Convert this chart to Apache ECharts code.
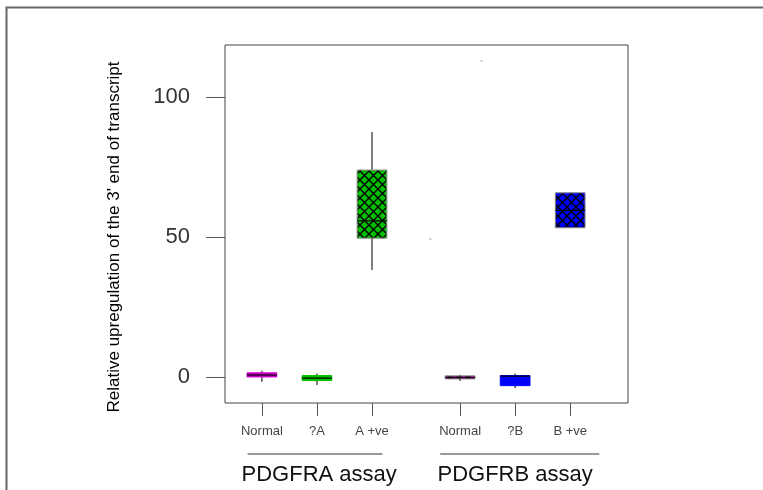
<!DOCTYPE html>
<html>
<head>
<meta charset="utf-8">
<title>Relative upregulation boxplot</title>
<script src="https://cdn.jsdelivr.net/npm/echarts@6/dist/echarts.min.js"></script>
<style>
  html, body { margin: 0; padding: 0; background: #fff; }
  #chart { width: 763px; height: 490px; }
</style>
</head>
<body>
<div id="chart"></div>
<script>
// categories and where they sit on the x axis (R-style "at" positions)
var categories = ['Normal', '?A', 'A +ve', 'Normal', '?B', 'B +ve'];
var positions = [1, 2, 3, 4.6, 5.6, 6.6];
// box stats: [low, q1, median, q3, high]
var lows    = [-1.7, -2.9, 38.2, -1.4, -4.0, 53.3];
var q1s     = [ 0.0, -1.3, 49.6, -0.7, -3.1, 53.3];
var medians = [ 0.7, -0.4, 55.8, -0.2,  0.3, 59.5];
var q3s     = [ 1.5,  0.5, 73.9,  0.4,  0.5, 65.8];
var highs   = [ 2.2,  1.2, 87.5,  0.8,  1.2, 65.8];
var boxColors = ['#cc00cc', '#00c000', '#00c000', '#cc00cc', '#0000ff', '#0000ff'];
var hatched = [false, false, true, true, false, true];
// the two faint stray points
var strayX = [4.06, 4.99];
var strayY = [49.3, 113];
var yTicks = [0, 50, 100];
var groups = ['PDGFRA assay', 'PDGFRB assay'];
var groupCentres = [2.04, 5.6];
var groupSpans = [[0.74, 3.19], [4.24, 7.13]];

function hatch(color) {
  var c = document.createElement('canvas');
  c.width = 9; c.height = 9;
  var g = c.getContext('2d');
  g.fillStyle = color;
  g.fillRect(0, 0, 9, 9);
  g.strokeStyle = '#000';
  g.lineWidth = 1.4;
  g.beginPath();
  g.moveTo(-1, -1); g.lineTo(10, 10);
  g.moveTo(10, -1); g.lineTo(-1, 10);
  g.stroke();
  return c;
}

var boxData = positions.map(function (p, i) {
  return [p, lows[i], q1s[i], medians[i], q3s[i], highs[i], i];
});

var chart = echarts.init(document.getElementById('chart'), null, { renderer: 'canvas' });

var font = 'Liberation Sans, Arial, sans-serif';

var option = {
  animation: false,
  backgroundColor: '#fff',
  grid: { left: 225, right: 135, top: 45, bottom: 87, show: true, borderColor: '#444', borderWidth: 1 },
  xAxis: {
    type: 'value',
    min: 0.33,
    max: 7.65,
    splitLine: { show: false },
    axisLine: { show: false, onZero: false },
    axisTick: { show: true, length: 13, lineStyle: { color: '#555' }, customValues: positions },
    axisLabel: {
      show: true, customValues: positions, margin: 22, fontSize: 13, color: '#444', fontFamily: font,
      formatter: function (v) {
        var i = positions.indexOf(v);
        return i >= 0 ? categories[i] : '';
      }
    }
  },
  yAxis: {
    type: 'value',
    min: -9.3,
    max: 118.6,
    splitLine: { show: false },
    axisLine: { show: false, onZero: false },
    axisTick: { show: true, length: 19, lineStyle: { color: '#555' }, customValues: yTicks },
    axisLabel: { show: true, customValues: yTicks, margin: 35, fontSize: 22, color: '#333', fontFamily: font },
    name: "Relative upregulation of the 3' end of transcript",
    nameLocation: 'middle',
    nameRotate: 90,
    nameGap: 102,
    nameTextStyle: { fontSize: 17, color: '#000', fontFamily: font, padding: [0, 26, 0, 0] }
  },
  series: [
    {
      type: 'custom',
      data: boxData,
      renderItem: function (params, api) {
        var x = api.value(0);
        var i = api.value(6);
        var lo = api.coord([x, api.value(1)]);
        var q1 = api.coord([x, api.value(2)]);
        var md = api.coord([x, api.value(3)]);
        var q3 = api.coord([x, api.value(4)]);
        var hi = api.coord([x, api.value(5)]);
        var w = api.size([0.54, 0])[0];
        var fill = hatched[i] ? { image: hatch(boxColors[i]), repeat: 'repeat' } : boxColors[i];
        return {
          type: 'group',
          children: [
            { type: 'line', shape: { x1: lo[0], y1: lo[1], x2: hi[0], y2: hi[1] }, style: { stroke: '#555', lineWidth: 1.5 } },
            { type: 'rect', shape: { x: q3[0] - w / 2, y: q3[1], width: w, height: Math.max(q1[1] - q3[1], 2) },
              style: { fill: fill, stroke: hatched[i] ? '#888' : boxColors[i], lineWidth: 1 } },
            { type: 'line', shape: { x1: md[0] - w / 2, y1: md[1], x2: md[0] + w / 2, y2: md[1] }, style: { stroke: '#000', lineWidth: 1.2 } }
          ]
        };
      }
    },
    {
      type: 'scatter',
      data: strayX.map(function (x, i) { return [x, strayY[i]]; }),
      symbolSize: 2,
      itemStyle: { color: '#aaa' }
    }
  ]
};

chart.setOption(option);

// group captions under the axis, placed through the axis scale
var graphics = [
  { type: 'rect', shape: { x: 6.5, y: 7.5, width: 800, height: 600 }, style: { fill: 'none', stroke: '#666', lineWidth: 2 }, silent: true }
];
groups.forEach(function (name, i) {
  var a = chart.convertToPixel({ gridIndex: 0 }, [groupSpans[i][0], 0]);
  var b = chart.convertToPixel({ gridIndex: 0 }, [groupSpans[i][1], 0]);
  var c = chart.convertToPixel({ gridIndex: 0 }, [groupCentres[i], 0]);
  graphics.push({ type: 'line', shape: { x1: a[0], y1: 454, x2: b[0], y2: 454 }, style: { stroke: '#333', lineWidth: 1 } });
  graphics.push({ type: 'text', x: c[0], y: 475, style: { text: name, fontSize: 22, fill: '#111', fontFamily: font, align: 'center', verticalAlign: 'middle' } });
});
chart.setOption({ graphic: graphics });
</script>
</body>
</html>
